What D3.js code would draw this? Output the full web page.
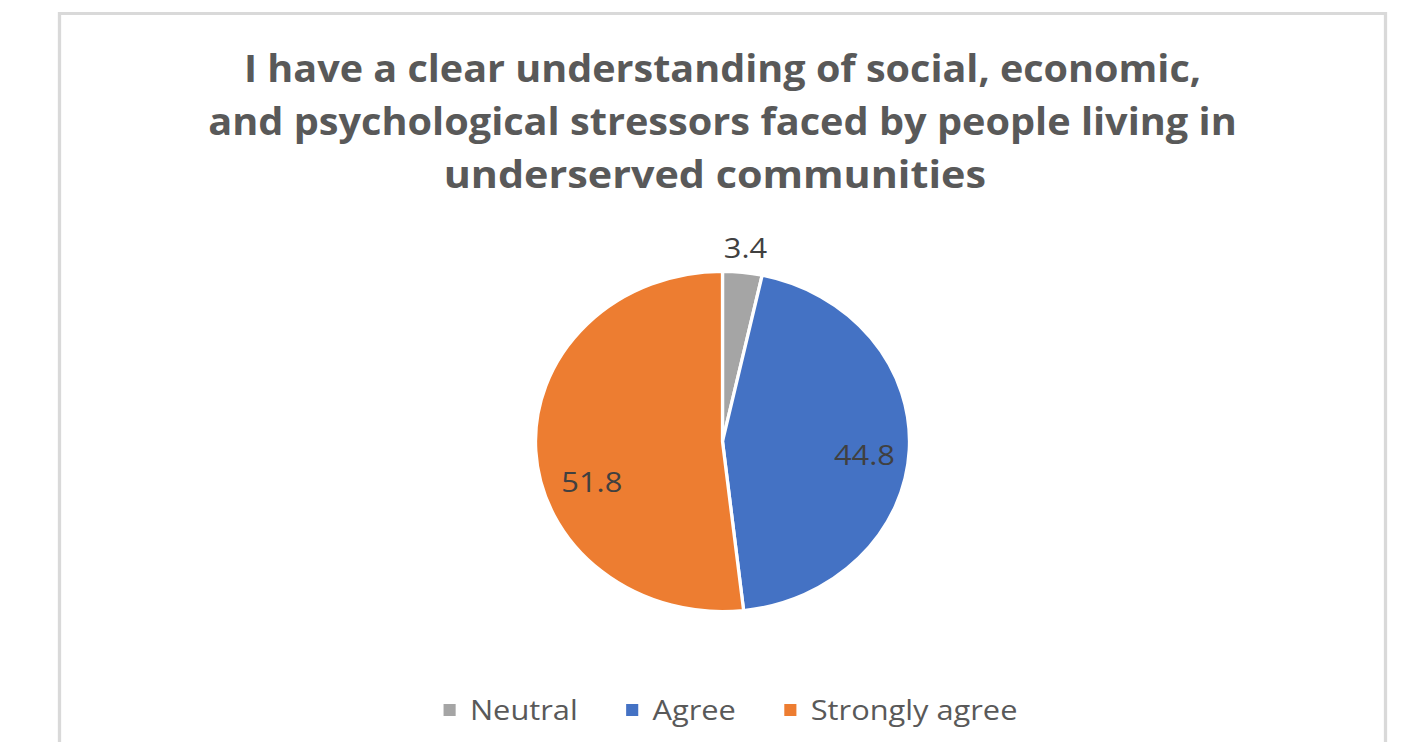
<!DOCTYPE html>
<html>
<head>
<meta charset="utf-8">
<script src="https://cdn.jsdelivr.net/npm/d3@7"></script>
<style>
  html, body { margin: 0; padding: 0; background: #fff; overflow: hidden; }
  svg { display: block; }
</style>
</head>
<body>
<svg></svg>
<script>
const categories = ["Neutral", "Agree", "Strongly agree"]
const values = [3.4, 44.8, 51.8]
const colors = ["#A5A5A5", "#4472C4", "#ED7D31"]
const titleLines = [
  "I have a clear understanding of social, economic,",
  "and psychological stressors faced by people living in",
  "underserved communities"
]

const data = categories.map((c, i) => ({ name: c, value: values[i], color: colors[i] }))

// the reference is stretched ~1.1x horizontally, so draw in a narrower viewBox
const W = 1417, H = 742, sx = 1.1
const vw = W / sx

const svg = d3.select("svg")
  .attr("width", W)
  .attr("height", H)
  .attr("viewBox", `0 0 ${vw} ${H}`)
  .attr("preserveAspectRatio", "none")

// chart frame
svg.append("rect")
  .attr("x", 59.5 / sx)
  .attr("y", 13.5)
  .attr("width", (1385.5 - 59.5) / sx)
  .attr("height", 800)
  .attr("fill", "#fff")
  .attr("stroke", "#d9d9d9")
  .attr("stroke-width", 3)

const cx = 722.5 / sx, cy = 441.5, r = 170

// title
const titleWidths = [870, 935, 493]
const titleShift = [0, 0, -7]
svg.append("g").selectAll("text")
  .data(titleLines)
  .join("text")
    .attr("x", (d, i) => cx + titleShift[i])
    .attr("y", (d, i) => 82 + i * 53)
    .attr("text-anchor", "middle")
    .attr("font-family", "'Open Sans', 'DejaVu Sans', sans-serif")
    .attr("font-weight", "bold")
    .attr("font-size", 37)
    .attr("fill", "#595959")
    .attr("textLength", (d, i) => titleWidths[i])
    .attr("lengthAdjust", "spacingAndGlyphs")
    .text(d => d)

const pie = d3.pie().sort(null).value(d => d.value)
const arcs = pie(data)
const arc = d3.arc().innerRadius(0).outerRadius(r)

const g = svg.append("g").attr("transform", `translate(${cx},${cy})`)

g.selectAll("path")
  .data(arcs)
  .join("path")
    .attr("d", arc)
    .attr("fill", d => d.data.color)
    .attr("stroke", "#fff")
    .attr("stroke-width", 3)
    .attr("stroke-linejoin", "round")

// label placement (Excel "best fit" look): radius factor + vertical nudge
const labelPlace = { "Neutral": [1.15, 0], "Agree": [0.76, 7], "Strongly agree": [0.70, 33] }

g.selectAll("text")
  .data(arcs)
  .join("text")
    .attr("transform", d => {
      const [k, dy] = labelPlace[d.data.name]
      const [x, y] = d3.arc().innerRadius(r * k).outerRadius(r * k).centroid(d)
      return `translate(${x},${y + dy})`
    })
    .attr("text-anchor", "middle")
    .attr("dominant-baseline", "central")
    .attr("font-family", "'Open Sans', 'DejaVu Sans', sans-serif")
    .attr("font-size", 28)
    .attr("fill", "#404040")
    .text(d => d.value.toFixed(1))

// legend
const legend = svg.append("g")
const items = legend.selectAll("g")
  .data(data)
  .join("g")

items.append("rect")
  .attr("width", 11)
  .attr("height", 12)
  .attr("y", -6)
  .attr("fill", d => d.color)

items.append("text")
  .attr("x", 24)
  .attr("y", 0)
  .attr("dominant-baseline", "central")
  .attr("font-family", "'Open Sans', 'DejaVu Sans', sans-serif")
  .attr("font-size", 28)
  .attr("fill", "#595959")
  .text(d => d.name)

const itemGap = 44
let xpos = 0
items.each(function () {
  const t = d3.select(this).select("text").node().getComputedTextLength()
  d3.select(this).attr("transform", `translate(${xpos},0)`)
  xpos += 24 + t + itemGap
})
const legendW = xpos - itemGap
legend.attr("transform", `translate(${730.5 / sx - legendW / 2},${710})`)
</script>
</body>
</html>
